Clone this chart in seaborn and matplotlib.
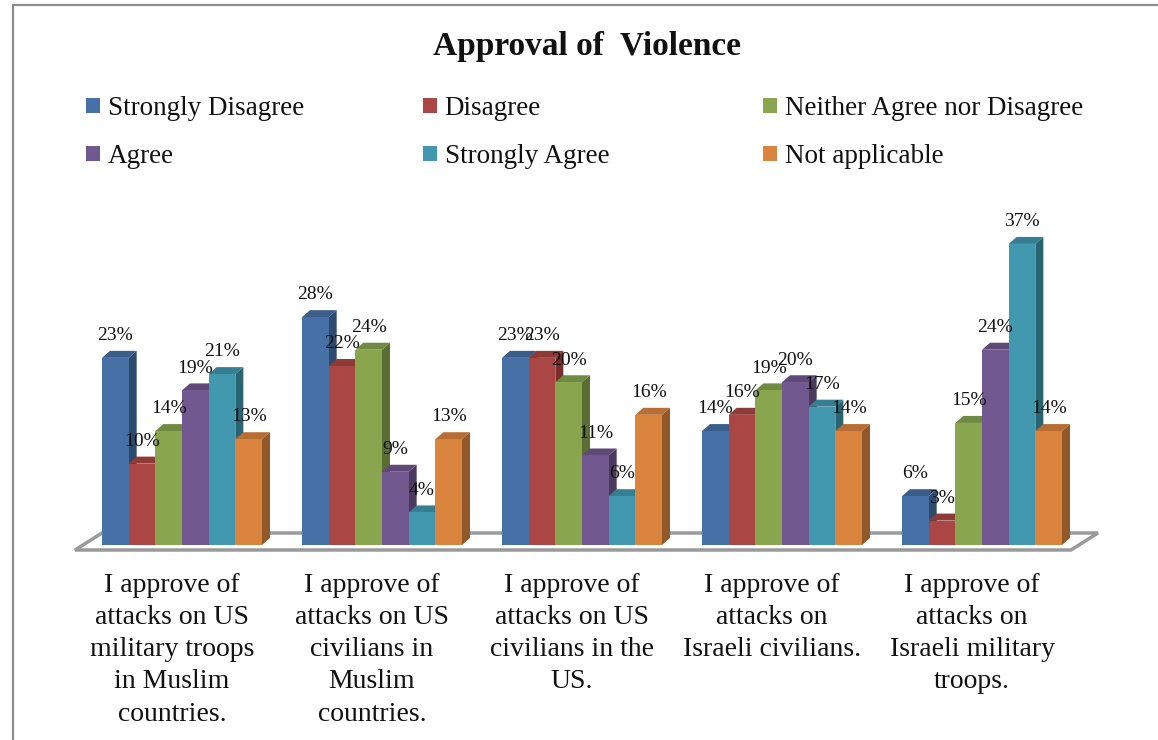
import matplotlib
matplotlib.use("Agg")
import matplotlib.pyplot as plt
import seaborn as sns
import pandas as pd
from matplotlib.patches import Polygon, Rectangle, Patch
from matplotlib.transforms import ScaledTranslation

# ---- data -------------------------------------------------------------
statements = [
    "I approve of\nattacks on US\nmilitary troops\nin Muslim\ncountries.",
    "I approve of\nattacks on US\ncivilians in\nMuslim\ncountries.",
    "I approve of\nattacks on US\ncivilians in the\nUS.",
    "I approve of\nattacks on\nIsraeli civilians.",
    "I approve of\nattacks on\nIsraeli military\ntroops.",
]
responses = ["Strongly Disagree", "Disagree", "Neither Agree nor Disagree",
             "Agree", "Strongly Agree", "Not applicable"]

strongly_disagree = [23, 28, 23, 14, 6]
disagree = [10, 22, 23, 16, 3]
neither = [14, 24, 20, 19, 15]
agree = [19, 9, 11, 20, 24]
strongly_agree = [21, 4, 6, 17, 37]
not_applicable = [13, 13, 16, 14, 14]

series = [strongly_disagree, disagree, neither, agree, strongly_agree, not_applicable]

# ---- colours (front / side / top faces of the 3-D columns) -------------
front_colors = ["#4571A7", "#AA4643", "#89A54E", "#71588F", "#4198AF", "#DB843D"]
side_colors = ["#2D4A6E", "#772E2C", "#5A6D33", "#4A3A5E", "#2A6473", "#925828"]
top_colors = ["#3A5D8A", "#8E3A37", "#718A41", "#5E4977", "#367F92", "#B86D32"]

df = pd.DataFrame({
    "statement": [s for vals in series for s in statements],
    "response": [r for r, vals in zip(responses, series) for _ in vals],
    "pct": [v for vals in series for v in vals],
})

# ---- figure ------------------------------------------------------------
sns.set_theme(style="white")
plt.rcParams["font.family"] = ["Liberation Serif", "DejaVu Serif"]

W, H = 1158, 740
fig = plt.figure(figsize=(W / 100, H / 100), dpi=100)

ax_left, ax_width = 82, 1000       # pixels
ax_base, ax_height = 545, 345      # baseline (from top) and height in pixels
ymax = 42.4
ax = fig.add_axes([ax_left / W, (H - ax_base) / H, ax_width / W, ax_height / H])

sns.barplot(data=df, x="statement", y="pct", hue="response",
            hue_order=responses, order=statements, palette=front_colors,
            width=0.8, saturation=1, ax=ax, legend=False,
            linewidth=0, edgecolor="none", errorbar=None)

ax.set_xlim(-0.5, len(statements) - 0.5)
ax.set_ylim(0, ymax)

# pixel -> data conversion for the 3-D depth offsets
px_x = ax_width / (len(statements))
px_y = ax_height / ymax
dx, dy = 8 / px_x, 7 / px_y

# collect bars with their series index
bars = []
for k, cont in enumerate(ax.containers):
    for p in cont.patches:
        bars.append((p.get_x(), k, p))
bars.sort(key=lambda t: t[0])

for i, (x, k, p) in enumerate(bars):
    w, h = p.get_width(), p.get_height()
    z = 3 + i * 0.01
    p.set_zorder(z)
    side = Polygon([(x + w, 0), (x + w + dx, dy), (x + w + dx, h + dy), (x + w, h)],
                   closed=True, facecolor=side_colors[k], edgecolor="none", zorder=z - 0.005)
    top = Polygon([(x, h), (x + dx, h + dy), (x + w + dx, h + dy), (x + w, h)],
                  closed=True, facecolor=top_colors[k], edgecolor="none", zorder=z - 0.004)
    ax.add_patch(side)
    ax.add_patch(top)
    ax.annotate(f"{int(round(h))}%", (x + w / 2, h), xytext=(0, 16),
                textcoords="offset points", ha="center", va="center",
                fontsize=14, color="#111111", zorder=20, annotation_clip=False)

# floor slab under the columns
x0, x1 = ax.get_xlim()
back_y, front_y = 12 / px_y, -5 / px_y
shift = 27 / px_x
floor = Polygon([(x0 + 0.1, back_y), (x1 + 0.08, back_y),
                 (x1 + 0.08 - shift, front_y), (x0 + 0.1 - shift, front_y)],
                closed=True, facecolor="white", edgecolor="#9a9a9a", lw=2.5,
                zorder=1, clip_on=False)
ax.add_patch(floor)

# axes cosmetics
for s in ax.spines.values():
    s.set_visible(False)
ax.set_yticks([])
ax.set_xlabel("")
ax.set_ylabel("")
ax.set_xticks(range(len(statements)))
ax.set_xticklabels(statements, fontsize=20, color="#111111")
ax.tick_params(axis="x", length=0, pad=20)
offset = ScaledTranslation(-10 / 100, 0, fig.dpi_scale_trans)
for lbl in ax.get_xticklabels():
    lbl.set_linespacing(1.38)
    lbl.set_transform(lbl.get_transform() + offset)

# title
fig.text(587 / W, 1 - 46 / H, "Approval of  Violence", ha="center", va="center",
         fontsize=24, fontweight="bold", color="#111111")

# legend in three evenly spaced columns
col_x = [86, 423, 763]
for c in range(3):
    idx = [c, c + 3]
    handles = [Patch(facecolor=front_colors[j], edgecolor="none", label=responses[j]) for j in idx]
    leg = fig.legend(handles=handles, loc="upper left",
                     bbox_to_anchor=(col_x[c] / W, 1 - 96 / H),
                     frameon=False, fontsize=19.5, handlelength=0.5,
                     handleheight=0.5, handletextpad=0.3, labelspacing=0.85,
                     borderpad=0, borderaxespad=0)
    for t in leg.get_texts():
        t.set_color("#111111")

# outer chart frame
fig.add_artist(Rectangle((12.5 / W, -0.1), 1.2, 1 - 4.5 / H + 0.1,
                         transform=fig.transFigure, fill=False,
                         edgecolor="#8c8c8c", lw=1.6))

fig.savefig("out.png", dpi=100, facecolor="white")
